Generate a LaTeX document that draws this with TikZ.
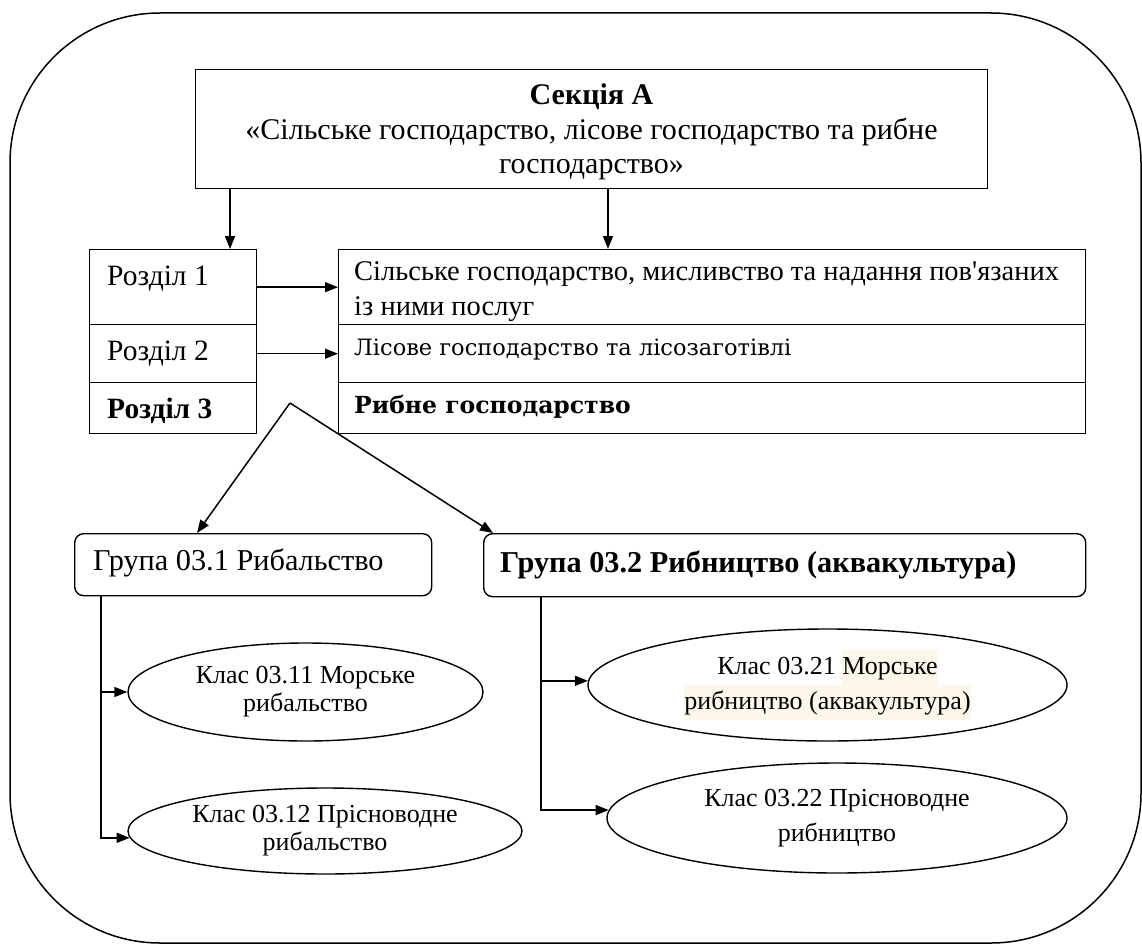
\documentclass[tikz,border=0pt]{standalone}
\usepackage{fontspec}
\setmainfont{Liberation Serif}[Ligatures=TeXOff]
\newfontfamily\geo{DejaVu Serif}[Ligatures=TeXOff]
\usetikzlibrary{arrows.meta,shapes.geometric}
\definecolor{hl}{HTML}{FDF7EA}
\newcommand\hlt[1]{{\setlength{\fboxsep}{0pt}\colorbox{hl}{\strut #1}}}
\begin{document}
\begin{tikzpicture}[x=1pt,y=-1pt,
  box/.style={draw, line width=1.4pt, inner sep=0pt, anchor=north west},
  grp/.style={draw, line width=1.4pt, rounded corners=9pt, inner sep=0pt, anchor=north west},
  ell/.style={draw, ellipse, line width=1.4pt, inner sep=0pt, align=center, font=\fontsize{26}{28}\selectfont},
  ellw/.style={ell, font=\fontsize{26}{35}\selectfont},
  arr/.style={line width=1.5pt, -{Triangle[length=13pt,width=10pt]}},
  big/.style={font=\fontsize{30}{34.5}\selectfont},
  mid/.style={font=\fontsize{29.5}{34.5}\selectfont},
  midb/.style={font=\fontsize{29.5}{34.5}\selectfont\bfseries},
  row/.style={font=\fontsize{28.5}{35}\selectfont},
  lbl/.style={anchor=base west, inner sep=0pt}
]
\useasboundingbox (0,0) rectangle (1142,944);
\draw[line width=1.5pt, rounded corners=150pt] (10,13) rectangle (1141,943);

% top section box
\node[box, minimum width=792pt, minimum height=119pt] (sec) at (195,69) {};
\node[big, align=center, inner sep=0pt] (sect) at (591.5,132)
  {\textbf{Секція А}\\«Сільське господарство, лісове господарство та рибне\\господарство»};

% left rows
\node[box, minimum width=167pt, minimum height=75pt] (r1) at (89,249) {};
\node[box, minimum width=167pt, minimum height=58pt] (r2) at (89,324) {};
\node[box, minimum width=167pt, minimum height=51pt] (r3) at (89,382) {};
\node[lbl, mid] (r1t) at (107,285) {Розділ 1};
\node[lbl, mid] (r2t) at (107,360) {Розділ 2};
\node[lbl, midb] (r3t) at (107,418) {Розділ 3};

% right rows
\node[box, minimum width=747pt, minimum height=75pt] (s1) at (338,249) {};
\node[box, minimum width=747pt, minimum height=58pt] (s2) at (338,324) {};
\node[box, minimum width=747pt, minimum height=51pt] (s3) at (338,382) {};
\node[lbl, row] (s1t) at (354,280) {Сільське господарство, мисливство та надання пов'язаних};
\node[lbl, row] (s1u) at (354,315) {із ними послуг};
\node[lbl, font=\geo\fontsize{22.5}{26}\selectfont] (s2t) at (354,355) {Лісове господарство та лісозаготівлі};
\node[lbl, font=\geo\fontsize{23.5}{26}\selectfont\bfseries] (s3t) at (354,413) {Рибне господарство};

% groups
\node[grp, minimum width=357pt, minimum height=62pt] (g1) at (74,533) {};
\node[grp, minimum width=602pt, minimum height=63pt] (g2) at (483,533) {};
\node[lbl, font=\fontsize{30.3}{34.5}\selectfont] (g1t) at (93,570) {Група 03.1 Рибальство};
\node[lbl, font=\fontsize{30.3}{34.5}\selectfont\bfseries] (g2t) at (500,572) {Група 03.2 Рибництво (аквакультура)};

% classes
\node[ell, minimum width=355pt, minimum height=98pt] (e1) at (305.5,692) {Клас 03.11 Морське\\рибальство};
\node[ell, minimum width=394pt, minimum height=86pt] (e2) at (325,831) {Клас 03.12 Прісноводне\\рибальство};
\node[ellw, minimum width=479pt, minimum height=112pt] (e3) at (827.5,685) {Клас 03.21 \hlt{Морське}\\\hlt{рибництво (аквакультура)}};
\node[ellw, minimum width=460pt, minimum height=110pt] (e4) at (837,818) {Клас 03.22 Прісноводне\\рибництво};

% connectors
\coordinate (c1) at (230,0);
\coordinate (c2) at (608,0);
\draw[arr] (sec.south -| c1) -- (r1.north -| c1);
\draw[arr] (sec.south -| c2) -- (s1.north -| c2);
\draw[arr] (r1.east) -- (s1.west |- r1.east);
\draw[arr] (r2.east) -- (s2.west |- r2.east);
\coordinate (apex) at (290,403);
\draw[arr] (apex) -- ([xshift=123pt]g1.north west);
\draw[arr] (apex) -- ([xshift=10pt]g2.north west);
\coordinate (v1) at ([xshift=27pt]g1.south west);
\coordinate (v2) at ([xshift=58pt]g2.south west);
\draw[arr] (v1) |- (e1.west);
\draw[arr] (v1) |- (e2.182);
\draw[arr] (v2) |- (e3.179);
\draw[arr] (v2) |- (e4.178.5);
\end{tikzpicture}
\end{document}
